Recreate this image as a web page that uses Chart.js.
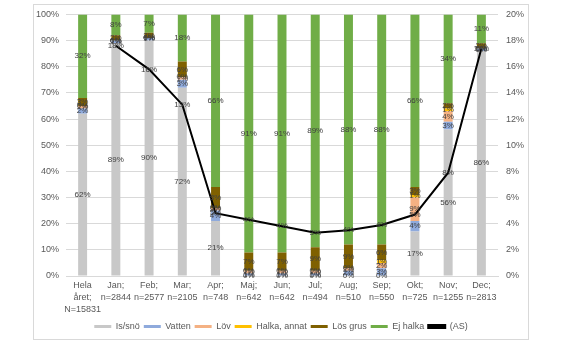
<!DOCTYPE html>
<html><head><meta charset="utf-8">
<script src="https://cdn.jsdelivr.net/npm/chart.js@4"></script>
<style>
html,body{margin:0;padding:0;background:#fff;width:576px;height:348px;overflow:hidden;}
#box{position:absolute;left:33px;top:4px;width:494px;height:334px;border:1px solid #d9d9d9;}
canvas{display:block;position:absolute;left:0;top:-4px;}
</style></head>
<body><div id="box"><canvas id="c" width="494" height="340"></canvas></div>
<script>
const categories = [["Hela","året;","N=15831"],["Jan;","n=2844"],["Feb;","n=2577"],["Mar;","n=2105"],["Apr;","n=748"],["Maj;","n=642"],["Jun;","n=642"],["Jul;","n=494"],["Aug;","n=510"],["Sep;","n=550"],["Okt;","n=725"],["Nov;","n=1255"],["Dec;","n=2813"]];
const isSno      = [62, 89, 90, 72, 21, 0, 0, 0, 0, 0, 17, 56, 86];
const vatten     = [2, 1, 1, 3, 4, 1, 1, 1, 2, 3, 4, 3, 1];
const lov        = [1, 0, 0, 1, 1, 1, 1, 1, 1, 2, 9, 4, 0];
const halkaAnnat = [0, 0, 0, 0, 0, 0, 0, 0, 0, 1, 1, 1, 0];
const losGrus    = [3, 2, 2, 6, 8, 7, 7, 9, 9, 6, 3, 2, 2];
const ejHalka    = [32, 8, 7, 18, 66, 91, 91, 89, 88, 88, 66, 34, 11];
const as         = [null, 17.6, 15.8, 13.1, 4.8, 4.3, 3.8, 3.3, 3.5, 3.9, 4.7, 7.9, 17.4];
const leftTicks  = [0,10,20,30,40,50,60,70,80,90,100];
const rightTicks = [0,2,4,6,8,10,12,14,16,18,20];

const FONT = "'Liberation Sans', Arial, sans-serif";
function bar(label, data, color){
  return {type:'bar', label, data, backgroundColor:color, borderWidth:0, order:1,
          stack:'s', yAxisID:'y', categoryPercentage:1, barPercentage:0.27};
}
const labelPlugin = {
  id:'labels',
  afterDatasetsDraw(chart){
    const ctx = chart.ctx;
    ctx.save();
    ctx.font = "8px " + FONT;
    ctx.textAlign = 'center';
    ctx.textBaseline = 'middle';
    chart.data.datasets.forEach((ds, di) => {
      const meta = chart.getDatasetMeta(di);
      meta.data.forEach((el, i) => {
        const v = ds.data[i];
        if (v === null || v === undefined) return;
        const y = ds.type === 'bar' ? (el.y + el.base) / 2 : el.y;
        ctx.fillStyle = '#404040';
        ctx.fillText(Math.round(v) + '%', el.x, y);
      });
    });
    ctx.restore();
  }
};
new Chart(document.getElementById('c'), {
  data: {
    labels: categories,
    datasets: [
      bar('Is/snö', isSno, '#c8c8c8'),
      bar('Vatten', vatten, '#8faadc'),
      bar('Löv', lov, '#f4b183'),
      bar('Halka, annat', halkaAnnat, '#ffc000'),
      bar('Lös grus', losGrus, '#7f6000'),
      bar('Ej halka', ejHalka, '#70ad47'),
      {type:'line', label:'(AS)', data:as, yAxisID:'y2', borderColor:'#000', backgroundColor:'#000',
       borderWidth:2, pointRadius:0, tension:0, order:0, spanGaps:false}
    ]
  },
  options: {
    responsive:false, animation:false,
    layout:{padding:{left:0,right:0,top:5,bottom:0}},
    plugins:{
      tooltip:{enabled:false},
      legend:{position:'bottom',
        labels:{boxWidth:17, boxHeight:3, padding:4, color:'#595959', font:{size:9, family:FONT},
          sort:(a,b)=>a.datasetIndex-b.datasetIndex}}
    },
    scales:{
      x:{stacked:true, grid:{display:false, drawTicks:false}, border:{color:'#d9d9d9'},
         afterFit(ax){ax.height = 42;},
         ticks:{color:'#595959', font:{size:9, family:FONT, lineHeight:1.333}, maxRotation:0, autoSkip:false, padding:4}},
      y:{stacked:true, position:'left', min:0, max:100,
         afterBuildTicks(ax){ax.ticks = leftTicks.map(v=>({value:v}));},
         afterFit(ax){ax.width = 32;},
         grid:{color:'#d9d9d9', drawTicks:false}, border:{display:false},
         ticks:{color:'#595959', font:{size:9, family:FONT}, padding:7, callback:v=>v+'%'}},
      y2:{position:'right', min:0, max:20,
         afterBuildTicks(ax){ax.ticks = rightTicks.map(v=>({value:v}));},
         afterFit(ax){ax.width = 30;},
         grid:{display:false, drawTicks:false}, border:{display:false},
         ticks:{color:'#595959', font:{size:9, family:FONT}, padding:8, callback:v=>v+'%'}}
    }
  },
  plugins:[labelPlugin]
});
</script></body></html>
